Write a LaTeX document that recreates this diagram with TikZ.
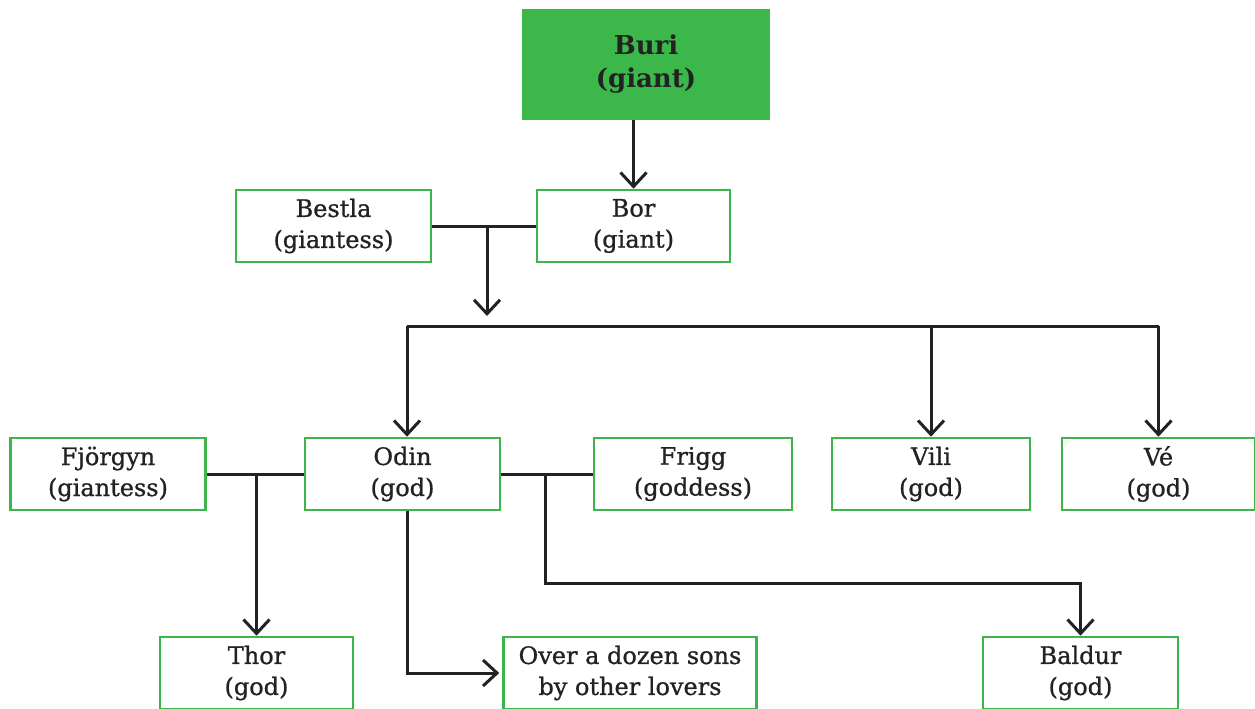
\documentclass[tikz,border=0pt]{standalone}
\usepackage{fontspec}
\setmainfont{DejaVu Serif}
\newfontfamily\kinfont{DejaVu Serif}[FakeBold=0.9]
\usetikzlibrary{arrows.meta,positioning}
\definecolor{kingreen}{HTML}{3DB54A}
\definecolor{rootgreen}{HTML}{3CB84B}
\definecolor{inkdark}{HTML}{222222}

\begin{document}
\begin{tikzpicture}[x=1pt, y=-1pt,
  font=\kinfont\fontsize{24}{31}\selectfont, text=inkdark,
  person/.style={draw=kingreen, line width=2.6pt, fill=white, align=center,
    minimum width=195pt, minimum height=72pt, inner sep=0pt},
  root/.style={person, draw=rootgreen, fill=rootgreen,
    font=\normalfont\fontsize{26}{33}\selectfont\bfseries,
    minimum width=246pt, minimum height=109pt},
  link/.style={line width=3pt, draw=inkdark},
  arr/.style={link, -{Straight Barb[length=14pt, width=26pt, line width=3pt]}}]
\useasboundingbox (0,0) rectangle (1255,709);
% first generations
\node[root] (buri) at (646,64.5) {Buri\\(giant)};
\node[person] (bestla) at (333.5,226) {Bestla\\(giantess)};
\node[person, minimum width=193pt] (bor) at (633.5,226) {Bor\\(giant)};
\draw[arr] (bor.north |- buri.south) -- (bor.north);
\draw[link] (bestla.east) -- (bor.west);
\coordinate (bbpair) at (487,226);
\coordinate (bbend) at (487,316);
\draw[arr] (bbpair) -- (bbend);
% sons of Bor
\node[person] (fjorgyn) at (108,474) {Fjörgyn\\(giantess)};
\node[person] (odin) at (402.5,474) {Odin\\(god)};
\node[person, minimum width=198pt] (frigg) at (693,474) {Frigg\\(goddess)};
\node[person, minimum width=198pt] (vili) at (931,474) {Vili\\(god)};
\node[person, minimum width=193pt] (ve) at (1158.5,474) {Vé\\(god)};
\coordinate (sibl) at (407,326);
\coordinate (sibr) at (ve.north |- sibl);
\draw[link] (sibl) -- (sibr);
\draw[arr] (sibl) -- (sibl |- odin.north);
\draw[arr] (vili.north |- sibl) -- (vili.north);
\draw[arr] (sibr) -- (ve.north);
% children of Odin
\node[person, minimum width=193pt] (thor) at (256.5,673) {Thor\\(god)};
\node[person, minimum width=253pt] (over) at (630,673) {Over a dozen sons\\by other lovers};
\node[person] (baldur) at (1080.5,673) {Baldur\\(god)};
\draw[link] (fjorgyn.east) -- (odin.west);
\draw[arr] (thor.north |- fjorgyn.east) -- (thor.north);
\draw[link] (odin.east) -- (frigg.west);
\coordinate (ofpair) at (545,474);
\coordinate (ofbend) at (545,583);
\draw[arr] (ofpair) -- (ofbend) -| (baldur.north);
\draw[arr, shorten >=3pt] ([xshift=4.5pt]odin.south) |- (over.west);
\end{tikzpicture}
\end{document}
